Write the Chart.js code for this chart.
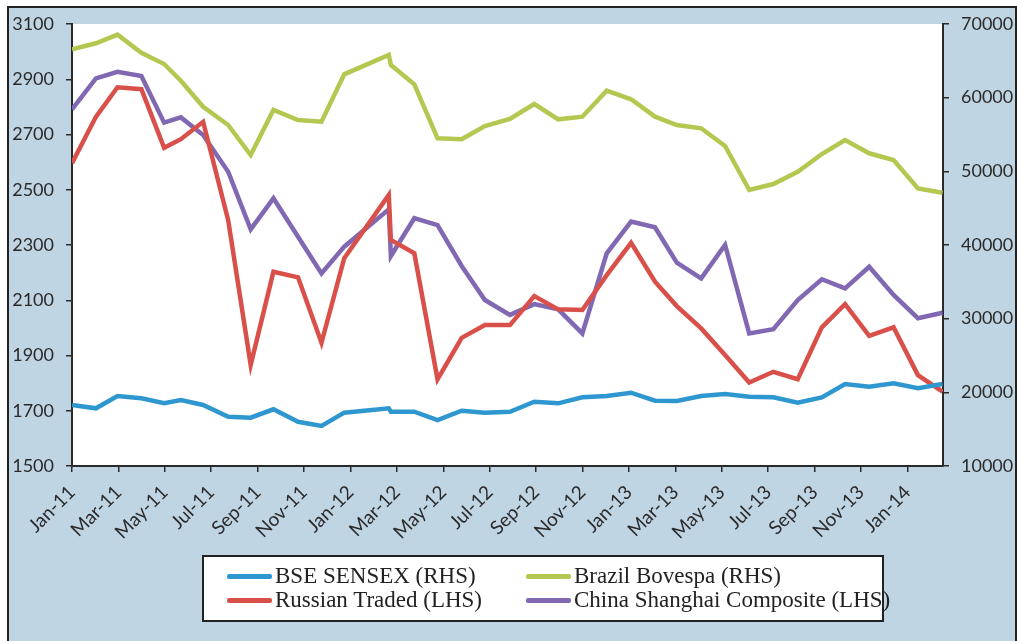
<!DOCTYPE html>
<html>
<head>
<meta charset="utf-8">
<script src="https://cdn.jsdelivr.net/npm/chart.js@4/dist/chart.umd.min.js"></script>
<style>
  body { margin: 0; background: #fff; }
  #frame { position: absolute; left: 7px; top: 6px; width: 1006px; height: 660px; background: #c0d5e3; border: 2px solid #222; }
  #wrap { position: absolute; left: 0; top: 0; width: 1017px; height: 641px; }
  #legend { position: absolute; left: 202px; top: 555px; width: 678px; height: 63px; background: #fff; border: 2px solid #222; font-family: "Liberation Serif", serif; font-size: 23px; color: #222; }
  .item { position: absolute; height: 24px; line-height: 24px; white-space: nowrap; }
  .item span.sw { display: inline-block; width: 45px; height: 5px; border-radius: 2px; vertical-align: middle; margin-right: 3px; position: relative; top: -1px; }
</style>
</head>
<body>
<div id="frame"></div>
<div id="wrap"><canvas id="myChart" width="1017" height="641"></canvas></div>
<div id="legend"></div>
<script>
// month positions of the points (0 = Jan-11)
const pointPos = [0, 1.03, 1.96, 2.99, 3.97, 4.69, 5.65, 6.73, 7.70, 8.68, 9.74, 10.75, 11.73, 13.65, 13.74,
    14.75, 15.75, 16.79, 17.79, 18.87, 19.92, 20.95, 21.99, 23.04, 24.09, 25.12, 26.06, 27.11, 28.14,
    29.18, 30.22, 31.27, 32.31, 33.31, 34.35, 35.40, 36.45, 37.51];
const tickLabels = ['Jan-11', 'Mar-11', 'May-11', 'Jul-11', 'Sep-11', 'Nov-11', 'Jan-12', 'Mar-12', 'May-12', 'Jul-12',
    'Sep-12', 'Nov-12', 'Jan-13', 'Mar-13', 'May-13', 'Jul-13', 'Sep-13', 'Nov-13', 'Jan-14'];

const sensex = [18280, 17830, 19500, 19190, 18510, 18960, 18280, 16690, 16560, 17700, 16010, 15430, 17240, 17830, 17370,
    17370, 16240, 17510, 17240, 17370, 18730, 18510, 19320, 19500, 19950, 18860, 18820, 19500, 19770,
    19410, 19320, 18590, 19320, 21130, 20770, 21220, 20550, 21130];
const bovespa = [66570, 67380, 68550, 66100, 64570, 62300, 58770, 56290, 52220, 58330, 56970, 56740, 63170, 65790, 64430,
    61810, 54480, 54350, 56150, 57100, 59140, 57060, 57420, 60950, 59780, 57420, 56290, 55840, 53440,
    47470, 48280, 49950, 52350, 54250, 52450, 51540, 47690, 47100];
const russian = [2596, 2764, 2871, 2864, 2652, 2683, 2746, 2390, 1866, 2203, 2183, 1946, 2252, 2481, 2318,
    2270, 1814, 1964, 2010, 2010, 2115, 2067, 2065, 2191, 2308, 2167, 2079, 1998, 1902,
    1802, 1841, 1814, 2002, 2086, 1971, 2002, 1829, 1769];
const shanghai = [2791, 2903, 2927, 2912, 2743, 2762, 2698, 2565, 2357, 2469, 2330, 2197, 2294, 2429, 2260,
    2397, 2372, 2224, 2101, 2047, 2086, 2067, 1980, 2270, 2385, 2364, 2236, 2179, 2300,
    1980, 1995, 2101, 2176, 2143, 2221, 2119, 2035, 2055];

const series = [
    {label: 'BSE SENSEX (RHS)', values: sensex, color: '#2f97d0', axis: 'y1'},
    {label: 'Brazil Bovespa (RHS)', values: bovespa, color: '#b3c850', axis: 'y1'},
    {label: 'Russian Traded (LHS)', values: russian, color: '#d9504b', axis: 'y'},
    {label: 'China Shanghai Composite (LHS)', values: shanghai, color: '#8068b2', axis: 'y'},
];

const tickFont = {family: 'Lato', size: 18};
const ink = '#2a2a2a';

const whiteArea = {
    id: 'whiteArea',
    beforeDraw(chart) {
        const {ctx, chartArea: a} = chart;
        ctx.save();
        ctx.fillStyle = '#fff';
        ctx.fillRect(a.left, a.top, a.right - a.left, a.bottom - a.top);
        ctx.restore();
    }
};

const ctx = document.getElementById('myChart').getContext('2d');
let chart = new Chart(ctx, {
    type: 'line',
    data: {
        datasets: series.map(s => ({
            label: s.label,
            data: s.values.map((v, i) => ({x: pointPos[i], y: v})),
            borderColor: s.color,
            backgroundColor: s.color,
            borderWidth: 4.5,
            pointRadius: 0,
            tension: 0,
            yAxisID: s.axis,
        })),
    },
    options: {
        responsive: false,
        devicePixelRatio: 1,
        animation: false,
        layout: {padding: {top: 24, left: 0, right: 0, bottom: 0}},
        plugins: {legend: {display: false}, tooltip: {enabled: false}},
        scales: {
            x: {
                type: 'linear',
                min: 0,
                max: 37.53,
                afterBuildTicks: (scale) => {
                    scale.ticks = tickLabels.map((t, i) => ({value: i * 2}));
                },
                afterFit: (scale) => { scale.height = 175; },
                ticks: {
                    callback: (v) => tickLabels[Math.round(v / 2)],
                    minRotation: 45,
                    maxRotation: 45,
                    autoSkip: false,
                    padding: 9,
                    color: ink,
                    font: {family: 'Lato', size: 19},
                },
                grid: {drawOnChartArea: false, drawTicks: true, tickLength: 6, color: ink, lineWidth: 1.5},
                border: {display: true, color: ink, width: 2},
            },
            y: {
                position: 'left',
                min: 1500,
                max: 3100,
                afterFit: (scale) => { scale.width = 72; },
                ticks: {stepSize: 200, padding: 12, color: ink, font: tickFont, callback: (v) => String(v)},
                grid: {drawOnChartArea: false, tickLength: 6, color: ink, lineWidth: 1.5},
                border: {display: true, color: ink, width: 2},
            },
            y1: {
                position: 'right',
                min: 10000,
                max: 70000,
                afterFit: (scale) => { scale.width = 74; },
                ticks: {stepSize: 10000, padding: 12, color: ink, font: tickFont, callback: (v) => String(v)},
                grid: {drawOnChartArea: false, tickLength: 6, color: ink, lineWidth: 1.5},
                border: {display: true, color: ink, width: 2},
            },
        },
    },
    plugins: [whiteArea],
});

// legend as two columns, two rows
const legendPos = [[23, 7], [322, 7], [23, 31], [322, 31]];
const legend = document.getElementById('legend');
series.forEach((s, i) => {
    let item = document.createElement('div');
    item.classList.add('item');
    item.style.left = legendPos[i][0] + 'px';
    item.style.top = legendPos[i][1] + 'px';
    let sw = document.createElement('span');
    sw.classList.add('sw');
    sw.style.background = s.color;
    item.appendChild(sw);
    item.appendChild(document.createTextNode(s.label));
    legend.appendChild(item);
});
</script>
</body>
</html>
